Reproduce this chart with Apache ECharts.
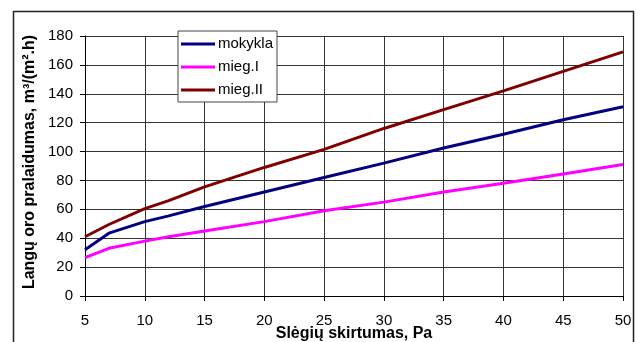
<!DOCTYPE html>
<html>
<head>
<meta charset="utf-8">
<script src="https://cdn.jsdelivr.net/npm/echarts@6/dist/echarts.min.js"></script>
<style>
  html, body { margin: 0; padding: 0; background: #fff; }
  #chart { width: 642px; height: 342px; }
</style>
</head>
<body>
<div id="chart"></div>
<script>
// Pressure difference, Pa
const pressure = [5, 7, 10, 12, 15, 20, 25, 30, 35, 40, 45, 50];
// Window air permeability, m3/(m2.h)
const mokykla = [32, 43.5, 51.5, 55.5, 62, 72, 82, 92, 102.5, 112, 122, 131];
const miegI   = [26.5, 33, 38, 41, 45, 51.5, 59, 65, 72, 78, 84.5, 91];
const miegII  = [41, 49.5, 60.5, 66, 75.5, 89, 101.5, 116, 129, 142, 155.5, 169];
const seriesNames = ['mokykla', 'mieg.I', 'mieg.II'];

const pairs = vals => pressure.map((p, i) => [p, vals[i]]);
const font = '"Liberation Sans", Arial, sans-serif';
const gridColor = '#333';

const chart = echarts.init(document.getElementById('chart'), null, { renderer: 'canvas' });
chart.setOption({
  animation: false,
  backgroundColor: '#fff',
  graphic: [{
    type: 'rect',
    shape: { x: 13.5, y: 11.5, width: 620, height: 345 },
    style: { fill: 'none', stroke: '#222', lineWidth: 1.5 },
    silent: true
  }],
  grid: { left: 85, top: 36, right: 19, bottom: 46, containLabel: false, outerBoundsMode: 'none' },
  legend: {
    left: 178, top: 31,
    orient: 'vertical',
    backgroundColor: '#fff',
    borderColor: '#444',
    borderWidth: 1,
    padding: [4, 4, 3, 3],
    itemWidth: 34, itemHeight: 3, itemGap: 5,
    icon: 'rect',
    textStyle: { fontFamily: font, fontSize: 15, color: '#000', padding: [0, 0, 0, -2], lineHeight: 18 },
    data: seriesNames
  },
  xAxis: {
    type: 'value', min: 5, max: 50, interval: 5,
    name: 'Slėgių skirtumas, Pa',
    nameLocation: 'middle', nameGap: 30, nameMoveOverlap: false,
    nameTextStyle: { fontFamily: font, fontSize: 16, fontWeight: 'bold', color: '#000' },
    axisLine: { lineStyle: { color: '#000' } },
    axisTick: { show: true, length: 5, lineStyle: { color: '#000' } },
    axisLabel: { fontFamily: font, fontSize: 15, color: '#000', margin: 17 },
    splitLine: { show: true, lineStyle: { color: gridColor, width: 1 } }
  },
  yAxis: {
    type: 'value', min: 0, max: 180, interval: 20,
    name: 'Langų oro pralaidumas, m³/(m².h)',
    nameLocation: 'middle', nameGap: 47, nameRotate: 90, nameMoveOverlap: false,
    nameTextStyle: { fontFamily: font, fontSize: 16, fontWeight: 'bold', color: '#000', padding: [0, 0, 0, 8] },
    axisLine: { show: true, lineStyle: { color: '#000' } },
    axisTick: { show: true, length: 5, lineStyle: { color: '#000' } },
    axisLabel: { fontFamily: font, fontSize: 15, color: '#000', margin: 12 },
    splitLine: { show: true, lineStyle: { color: gridColor, width: 1 } }
  },
  series: [
    { name: seriesNames[0], type: 'line', data: pairs(mokykla), showSymbol: false, symbol: 'none',
      lineStyle: { color: '#000080', width: 3 }, itemStyle: { color: '#000080' } },
    { name: seriesNames[1], type: 'line', data: pairs(miegI), showSymbol: false, symbol: 'none',
      lineStyle: { color: '#ff00ff', width: 3 }, itemStyle: { color: '#ff00ff' } },
    { name: seriesNames[2], type: 'line', data: pairs(miegII), showSymbol: false, symbol: 'none',
      lineStyle: { color: '#800000', width: 3 }, itemStyle: { color: '#800000' } }
  ]
});
</script>
</body>
</html>
